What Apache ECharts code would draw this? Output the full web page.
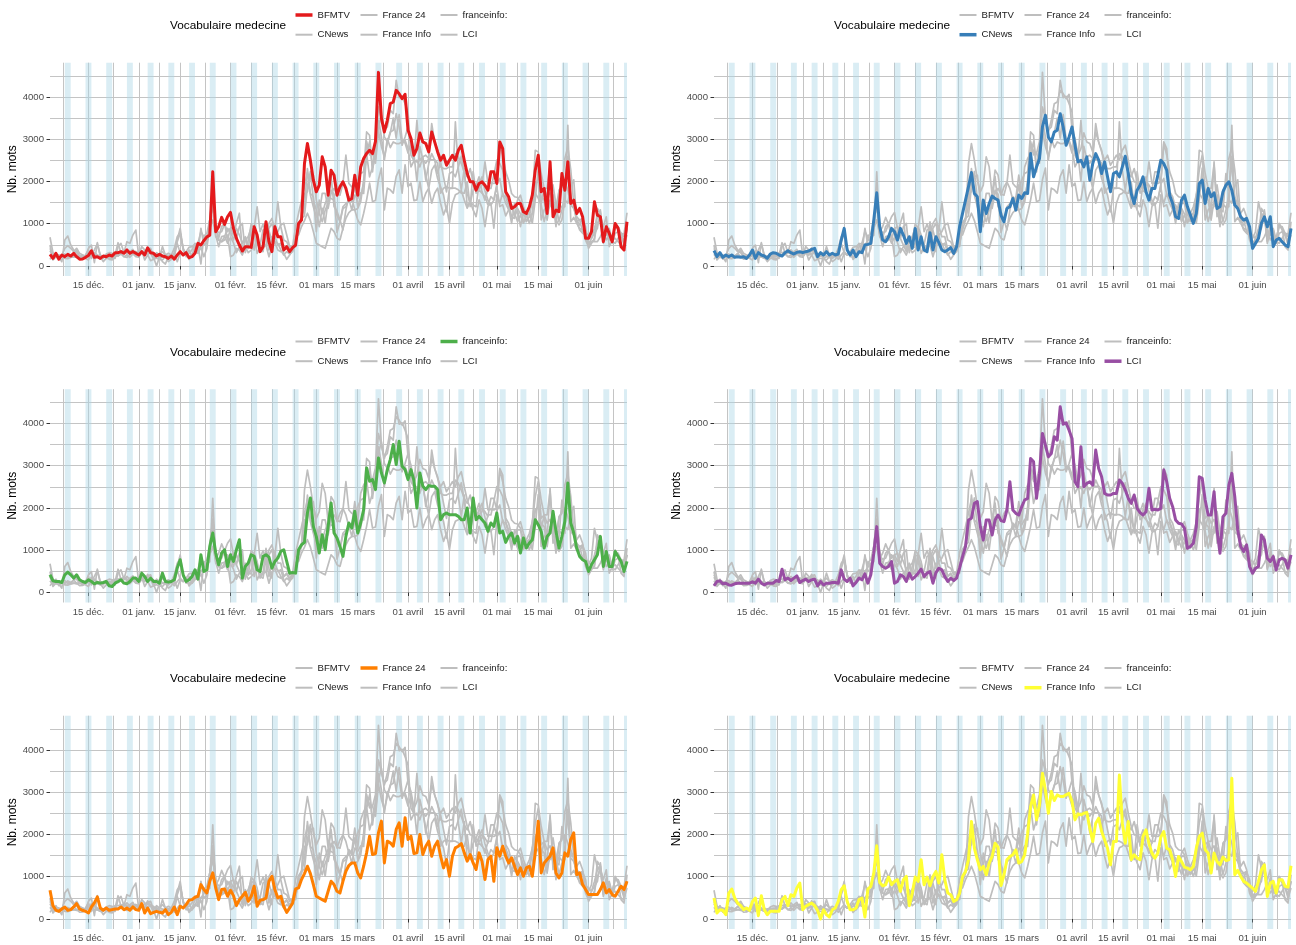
<!DOCTYPE html>
<html>
<head>
<meta charset="utf-8">
<script src="https://cdn.jsdelivr.net/npm/echarts@6/dist/echarts.min.js"></script>
<style>
html, body { margin: 0; padding: 0; background: #ffffff; }
#chart { width: 1296px; height: 945px; }
</style>
</head>
<body>
<div id="chart"></div>
<script>
// Daily word counts ("Nb. mots") of medical vocabulary per TV channel, from 2019-12-02.
const startDate = '2019-12-02';
const channels = ['BFMTV', 'CNews', 'France 24', 'France Info', 'franceinfo:', 'LCI'];
const channelColors = ['#E41A1C', '#377EB8', '#FF7F00', '#FFFF33', '#4DAF4A', '#984EA3'];
const tickDates = ['2019-12-15', '2020-01-01', '2020-01-15', '2020-02-01', '2020-02-15', '2020-03-01',
  '2020-03-15', '2020-04-01', '2020-04-15', '2020-05-01', '2020-05-15', '2020-06-01'];
const tickLabels = ['15 déc.', '01 janv.', '15 janv.', '01 févr.', '15 févr.', '01 mars',
  '15 mars', '01 avril', '15 avril', '01 mai', '15 mai', '01 juin'];
const yTickValues = [0, 1000, 2000, 3000, 4000];
const yMinorValues = [500, 1500, 2500, 3500, 4500];

const bfmtv = [
  275, 180, 300, 160, 260, 220, 275, 235, 300, 220,
  160, 165, 205, 250, 360, 205, 220, 180, 235, 220,
  260, 235, 315, 315, 340, 300, 380, 300, 340, 300,
  260, 340, 260, 430, 315, 300, 235, 275, 235, 220,
  180, 235, 160, 260, 340, 260, 315, 197, 220, 300,
  535, 496, 600, 690, 730, 2228, 811, 930, 1150, 985,
  1165, 1268, 890, 654, 496, 354, 457, 457, 441, 930,
  732, 340, 457, 1047, 575, 340, 930, 693, 693, 378,
  457, 340, 433, 496, 1008, 1087, 2425, 2898, 2504, 2031,
  1756, 1913, 2583, 2346, 1677, 2268, 2150, 1677, 1874, 1992,
  1835, 1559, 1598, 2150, 1677, 2346, 2543, 2661, 2740, 2661,
  2950, 4583, 3500, 3173, 3449, 3843, 3882, 4157, 4079, 3961,
  4063, 3213, 3016, 2622, 2780, 3150, 2937, 2898, 2701, 3173,
  2937, 2701, 2504, 2622, 2386, 2504, 2622, 2504, 2740, 2858,
  2504, 2189, 1992, 1992, 1795, 1953, 1992, 1913, 1795, 2228,
  2228, 1953, 2937, 2780, 1756, 1638, 1362, 1402, 1480, 1480,
  1283, 1244, 1402, 1677, 2268, 2622, 1756, 1835, 1244, 2465,
  1165, 1323, 1283, 2189, 1795, 2465, 1480, 1559, 1244, 1362,
  1165, 654, 654, 811, 1520, 1205, 1165, 575, 930, 772,
  575, 1008, 890, 457, 378, 1047
];
const cnews = [
  362, 220, 315, 205, 260, 220, 260, 205, 220, 205,
  220, 180, 260, 378, 180, 315, 260, 236, 180, 283,
  315, 300, 260, 236, 315, 362, 315, 283, 323, 339,
  315, 339, 354, 394, 417, 220, 315, 260, 339, 260,
  300, 260, 283, 614, 890, 378, 260, 378, 220, 339,
  315, 496, 512, 535, 1087, 1732, 930, 614, 575, 693,
  890, 811, 614, 890, 732, 535, 693, 417, 890, 378,
  693, 378, 339, 787, 378, 693, 551, 378, 339, 378,
  433, 300, 457, 930, 1244, 1559, 1874, 2213, 1717, 1638,
  811, 1559, 1244, 1480, 1654, 1598, 1559, 1200, 1047, 1362,
  1402, 1598, 1323, 1677, 1598, 1732, 1717, 2661, 2110, 2346,
  2543, 3291, 3567, 3055, 2937, 3173, 3213, 3606, 3291, 2858,
  3055, 3291, 2858, 2465, 2504, 2346, 2583, 2031, 2425, 2661,
  2504, 2189, 2465, 2110, 1756, 2189, 2228, 2110, 2346, 2598,
  2189, 1717, 1480, 1795, 1913, 2110, 1756, 1559, 1835, 1835,
  2150, 2504, 2425, 2268, 1677, 1480, 1165, 1126, 1559, 1677,
  1402, 1205, 1008, 1244, 1953, 2031, 1480, 1835, 1638, 1732,
  1362, 1402, 1756, 1913, 1992, 1795, 1441, 1362, 1165, 1087,
  1126, 930, 417, 535, 654, 1008, 1165, 930, 1165, 457,
  614, 654, 575, 496, 457, 890
];
const france24 = [
  680, 316, 206, 182, 237, 285, 206, 221, 285, 364,
  237, 206, 182, 142, 285, 380, 522, 261, 206, 261,
  206, 221, 237, 237, 285, 221, 261, 206, 285, 221,
  206, 364, 142, 261, 126, 158, 182, 158, 142, 221,
  103, 158, 285, 103, 300, 261, 340, 443, 458, 514,
  538, 814, 696, 617, 893, 1091, 735, 458, 696, 711,
  538, 680, 553, 316, 458, 538, 632, 419, 538, 775,
  300, 443, 458, 498, 893, 1012, 696, 498, 538, 300,
  158, 261, 380, 711, 735, 933, 1075, 1249, 1075, 814,
  538, 498, 458, 419, 656, 893, 814, 656, 617, 893,
  1130, 1265, 1328, 1328, 1091, 972, 1249, 1565, 1960, 1526,
  1549, 2040, 2316, 1328, 1842, 1802, 1723, 2119, 2277, 1723,
  2395, 1881, 1960, 1549, 1565, 2000, 1526, 1723, 1842, 1486,
  1723, 1842, 1486, 1209, 1407, 1012, 1486, 1684, 1723, 1786,
  1565, 1368, 1526, 1328, 1170, 1565, 1368, 933, 1407, 1486,
  893, 1684, 1486, 1723, 1486, 1328, 1447, 1249, 1051, 1209,
  1012, 1209, 1249, 1012, 1565, 2316, 1091, 1328, 1407, 1486,
  1684, 1091, 972, 1091, 1565, 1486, 1881, 2040, 1051, 1091,
  814, 696, 577, 577, 577, 577, 696, 854, 617, 696,
  577, 538, 656, 775, 696, 893
];
const franceInfo = [
  496, 142, 220, 205, 102, 614, 709, 496, 378, 315,
  220, 260, 205, 417, 496, 79, 551, 220, 102, 181,
  181, 181, 181, 457, 535, 315, 575, 535, 732, 850,
  220, 300, 339, 378, 315, 205, 0, 220, 102, 47,
  220, 260, 417, 693, 787, 417, 220, 220, 260, 457,
  496, 47, 709, 772, 1087, 1732, 866, 787, 811, 992,
  811, 890, 930, 654, 930, 1008, 315, 614, 992, 890,
  1402, 811, 992, 787, 1008, 1126, 850, 1520, 930, 614,
  575, 417, 457, 614, 1008, 1126, 1402, 2307, 1677, 1402,
  1165, 1244, 1047, 1323, 1480, 1795, 1700, 790, 1047, 1402,
  1480, 1520, 1638, 1323, 1362, 1520, 2031, 2661, 2937, 2346,
  2701, 3449, 3055, 2504, 3016, 2803, 2937, 2898, 2898, 2937,
  2977, 2780, 2346, 2488, 2465, 2504, 2520, 2150, 1835, 2268,
  2386, 2071, 1874, 1677, 1283, 1835, 1835, 3409, 2268, 1795,
  2307, 1402, 1520, 1441, 1402, 1953, 2110, 1780, 1559, 1441,
  1559, 1937, 2071, 1677, 1638, 1402, 1008, 1480, 1362, 1228,
  1205, 1165, 1244, 1677, 1953, 2031, 1638, 1559, 1087, 1559,
  1362, 1283, 1465, 1386, 1402, 3331, 1047, 1150, 1008, 890,
  850, 787, 732, 654, 890, 1165, 1283, 535, 850, 890,
  614, 930, 930, 772, 756, 1260
];
const franceinfoColon = [
  419, 277, 261, 261, 237, 419, 482, 419, 340, 419,
  300, 261, 237, 300, 261, 205, 237, 221, 237, 261,
  158, 142, 221, 261, 300, 221, 205, 261, 340, 340,
  261, 458, 380, 261, 340, 261, 261, 221, 458, 261,
  245, 261, 300, 577, 775, 419, 261, 300, 380, 537,
  316, 893, 498, 537, 1091, 1407, 933, 656, 933, 1012,
  617, 893, 735, 1012, 1249, 340, 617, 696, 893, 854,
  537, 498, 854, 893, 838, 577, 735, 814, 972, 1012,
  735, 458, 474, 458, 1012, 1130, 1186, 1881, 2237, 1565,
  1328, 933, 1367, 1012, 1565, 2119, 1407, 1289, 1091, 854,
  1328, 1644, 1526, 1921, 1407, 1644, 1960, 2949, 2632, 2672,
  2435, 3186, 2830, 2593, 2900, 3146, 3502, 3028, 3581, 2988,
  2909, 2672, 2909, 2650, 2000, 2830, 2514, 2435, 2530, 2514,
  2514, 2435, 1723, 1842, 1881, 1842, 1842, 1842, 1802, 1723,
  1723, 2000, 1407, 2237, 1723, 1802, 1723, 1644, 1447, 1644,
  1565, 1881, 1407, 1447, 1186, 1328, 1407, 1170, 1328, 933,
  1289, 1051, 1170, 1249, 1723, 1605, 1447, 1051, 1328, 1407,
  1921, 1447, 1051, 1328, 1684, 2593, 1644, 1407, 1051, 854,
  775, 735, 498, 656, 775, 893, 1328, 617, 972, 617,
  617, 972, 854, 735, 498, 735
];
const lci = [
  157, 260, 275, 205, 220, 180, 173, 205, 220, 220,
  220, 220, 220, 252, 220, 315, 220, 180, 220, 220,
  220, 283, 260, 551, 300, 339, 283, 339, 394, 236,
  283, 315, 260, 300, 315, 157, 260, 180, 220, 220,
  236, 236, 220, 535, 315, 260, 339, 157, 236, 339,
  300, 441, 220, 417, 930, 1559, 693, 614, 575, 614,
  732, 220, 260, 417, 378, 260, 457, 315, 378, 457,
  551, 378, 457, 496, 220, 472, 575, 535, 378, 260,
  339, 283, 339, 575, 850, 1087, 1717, 1756, 2110, 2150,
  1559, 1244, 1717, 1717, 1362, 1717, 1835, 1700, 1677, 1953,
  2622, 1953, 1874, 1835, 2031, 2189, 2228, 3173, 3094, 2228,
  2819, 3764, 3488, 3213, 3291, 3685, 3606, 4394, 3984, 4016,
  3843, 3646, 2622, 2504, 3449, 2504, 2583, 2622, 2543, 3370,
  2937, 2740, 2346, 2307, 2307, 2346, 2346, 2661, 2583, 2425,
  2228, 2110, 2307, 1992, 1890, 1835, 1913, 2465, 1953, 1969,
  1953, 1992, 2898, 2622, 2228, 2031, 1717, 1638, 1622, 1520,
  1047, 1087, 1165, 1559, 2740, 2701, 2189, 1835, 1835, 2386,
  1480, 930, 1795, 1874, 2543, 2819, 2268, 1480, 1087, 969,
  1126, 614, 457, 575, 614, 1362, 1244, 811, 732, 850,
  535, 772, 811, 772, 575, 890
];

const seriesValues = [bfmtv, cnews, france24, franceInfo, franceinfoColon, lci];

// Panel order: highlighted channel for each facet, row by row
const panelChannels = [0, 1, 4, 5, 2, 3];

const FONT = '"Liberation Sans", Arial, Helvetica, sans-serif';
const GREY_LINE = '#bebebe';
const GRID_LINE = '#c4c4c4';
const BAND = 'rgba(173, 216, 230, 0.45)';

const DAY = 86400000;
const t0 = Date.parse(startDate + 'T00:00:00Z');
const dayIndex = d => Math.round((Date.parse(d + 'T00:00:00Z') - t0) / DAY);
const nDays = bfmtv.length;
const xMax = nDays - 1;

// Major breaks on the 1st and 15th, minor breaks half-way between them
const majorIdx = tickDates.map(dayIndex);
const labelByIdx = {};
majorIdx.forEach((v, i) => { labelByIdx[v] = tickLabels[i]; });
const firstStep = majorIdx[1] - majorIdx[0];
const extended = [majorIdx[0] - firstStep, ...majorIdx, majorIdx[majorIdx.length - 1] + firstStep];
const minorIdx = [];
for (let i = 0; i < extended.length - 1; i++) {
  const m = (extended[i] + extended[i + 1]) / 2;
  if (m >= 0 && m <= xMax) minorIdx.push(m);
}

// Weekend shading: Saturday to Monday
const weekendBands = [];
for (let i = 0; i < nDays; i++) {
  if (new Date(t0 + i * DAY).getUTCDay() === 6) {
    weekendBands.push([{ xAxis: i }, { xAxis: Math.min(i + 2, xMax) }]);
  }
}

// Facet layout
const colX = [0, 664];
const rowY = [0, 326.5, 653];
const PLOT_LEFT = 50, PLOT_TOP = 62.7, PLOT_W = 577, PLOT_H = 213.3;
const Y_MIN = -237, Y_MAX = 4812;
const legendKeyX = [295.5, 360.5, 440.5];
const legendRowY = [16, 35.7];

const grids = [], xAxes = [], yAxes = [], series = [], legends = [], titles = [];

panelChannels.forEach((hl, p) => {
  const ox = colX[p % 2];
  const oy = rowY[Math.floor(p / 2)];

  grids.push({ left: PLOT_LEFT + ox, top: PLOT_TOP + oy, width: PLOT_W, height: PLOT_H, containLabel: false });

  xAxes.push({
    type: 'value', gridIndex: p, min: 0, max: xMax, position: 'bottom',
    axisLine: { show: false },
    axisTick: { show: true, customValues: majorIdx, length: 3.5, lineStyle: { color: '#333333', width: 1 } },
    axisLabel: {
      customValues: majorIdx, formatter: v => labelByIdx[v] || '',
      fontSize: 9.6, color: '#4d4d4d', margin: 4.5, fontFamily: FONT
    },
    splitLine: { show: true, lineStyle: { color: GRID_LINE, width: 1 } }
  });
  xAxes.push({
    type: 'value', gridIndex: p, min: 0, max: xMax, position: 'top',
    axisLine: { show: false },
    axisTick: { show: false, customValues: minorIdx },
    axisLabel: { show: false },
    splitLine: { show: true, lineStyle: { color: GRID_LINE, width: 1 } }
  });

  yAxes.push({
    type: 'value', gridIndex: p, min: Y_MIN, max: Y_MAX, position: 'left',
    name: 'Nb. mots', nameLocation: 'middle', nameRotate: 90, nameGap: 25,
    nameTextStyle: { fontSize: 12, color: '#000000', fontFamily: FONT },
    axisLine: { show: false },
    axisTick: { show: true, customValues: yTickValues, length: 3.5, lineStyle: { color: '#333333', width: 1 } },
    axisLabel: {
      customValues: yTickValues, formatter: v => String(v),
      fontSize: 9.6, color: '#4d4d4d', margin: 6, fontFamily: FONT
    },
    splitLine: { show: true, lineStyle: { color: GRID_LINE, width: 1.1 } }
  });
  yAxes.push({
    type: 'value', gridIndex: p, min: Y_MIN, max: Y_MAX, position: 'right',
    axisLine: { show: false },
    axisTick: { show: false, customValues: yMinorValues },
    axisLabel: { show: false },
    splitLine: { show: true, lineStyle: { color: GRID_LINE, width: 1.1 } }
  });

  titles.push({
    text: 'Vocabulaire medecine', left: 170 + ox, top: 19.8 + oy, padding: 0,
    textStyle: { fontSize: 11.8, fontWeight: 'normal', color: '#000000', fontFamily: FONT }
  });

  const order = channels.map((_, c) => c).filter(c => c !== hl).concat([hl]);
  order.forEach((c, k) => {
    const isHl = c === hl;
    const color = isHl ? channelColors[c] : GREY_LINE;
    const s = {
      type: 'line',
      name: channels[c] + '##' + p,
      xAxisIndex: 2 * p, yAxisIndex: 2 * p,
      data: seriesValues[c].map((v, i) => [i, v]),
      showSymbol: false, symbol: 'none',
      lineStyle: { color: color, width: isHl ? 3 : 1.7, join: 'round' },
      itemStyle: { color: color },
      z: isHl ? 4 : 3,
      silent: true,
      animation: false,
      emphasis: { disabled: true }
    };
    if (k === 0) {
      s.markArea = { silent: true, z: 1, itemStyle: { color: BAND, borderWidth: 0 }, data: weekendBands };
    }
    series.push(s);
  });

  // Legend: 3 columns x 2 rows
  channels.forEach((ch, c) => {
    const isHl = c === hl;
    const col = Math.floor(c / 2), row = c % 2;
    legends.push({
      left: legendKeyX[col] + ox, top: legendRowY[row] - 6 + oy,
      padding: 0, itemGap: 0, itemWidth: 17, itemHeight: isHl ? 3.5 : 2,
      icon: 'rect', selectedMode: false,
      formatter: n => n.split('##')[0],
      data: [{ name: ch + '##' + p, itemStyle: { color: isHl ? channelColors[c] : GREY_LINE, borderWidth: 0 } }],
      textStyle: { fontSize: 9.6, color: '#1a1a1a', fontFamily: FONT }
    });
  });
});

const chart = echarts.init(document.getElementById('chart'), null, { renderer: 'canvas' });
chart.setOption({
  backgroundColor: '#ffffff',
  animation: false,
  title: titles,
  legend: legends,
  grid: grids,
  xAxis: xAxes,
  yAxis: yAxes,
  series: series
});
</script>
</body>
</html>
